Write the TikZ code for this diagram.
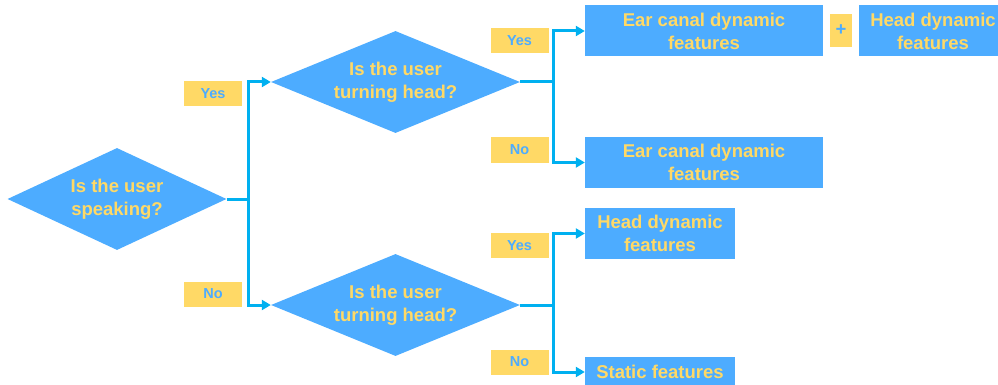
\documentclass[tikz,border=0pt]{standalone}
\usepackage{fontspec}
\setmainfont{Liberation Sans}
\usetikzlibrary{shapes.geometric, arrows.meta}

\definecolor{boxblue}{HTML}{4DACFF}
\definecolor{linkblue}{HTML}{00B0F0}
\definecolor{tagyellow}{HTML}{FFD966}

\begin{document}
\begin{tikzpicture}[x=1pt, y=-1pt,
	ask/.style={diamond, aspect=2.15, fill=boxblue, text=tagyellow, align=center, inner sep=0pt,
		minimum width=219pt, minimum height=102pt,
		font=\bfseries\fontsize{18.5}{23}\selectfont},
	feat/.style={rectangle, fill=boxblue, text=tagyellow, align=center, inner sep=0pt,
		minimum height=51pt, font=\bfseries\fontsize{18.5}{23}\selectfont},
	tag/.style={rectangle, fill=tagyellow, text=boxblue, inner sep=0pt,
		minimum width=58pt, minimum height=25pt, font=\bfseries\fontsize{14.5}{17}\selectfont},
	link/.style={line width=3pt, linkblue},
	go/.style={link, -{Triangle[length=9pt, width=10pt]}}]

\useasboundingbox (0, 0) rectangle (998, 385);
\clip (0, 0) rectangle (998, 385);

\node[ask] (speak) at (117, 199) {Is the user\\speaking?};
\node[ask, aspect=2.42, minimum width=249pt] (turnA) at (395.5, 82) {Is the user\\turning head?};
\node[ask, aspect=2.42, minimum width=249pt] (turnB) at (395.5, 305) {Is the user\\turning head?};

\node[feat, minimum width=238pt] (earA) at (704, 31) {Ear canal dynamic\\features};
\node[tag, minimum width=22pt, minimum height=33pt, font=\bfseries\fontsize{18.5}{20}\selectfont] (plus) at (841, 30.5) {+};
\node[feat, minimum width=148pt] (headA) at (933, 31) {Head dynamic\\features};
\node[feat, minimum width=238pt] (earB) at (704, 162.5) {Ear canal dynamic\\features};
\node[feat, minimum width=150pt] (headB) at (660, 233.5) {Head dynamic\\features};
\node[feat, minimum width=150pt, minimum height=30pt] (static) at (660, 372) {Static features};

\foreach \name/\x/\y/\text in {
	yesA/213/94/Yes,
	noA/213/294/No,
	yesB/519.5/41/Yes,
	noB/519.5/150/No,
	yesC/519.5/245.5/Yes,
	noC/519.5/362/No}
	\node[tag] (\name) at (\x, \y) {\text};

\coordinate (forkA) at (248, 199);
\coordinate (forkB) at (553, 82);
\coordinate (forkC) at (553, 305);

\draw[link] (speak.east) -- (forkA);
\draw[go] (forkA) |- (turnA.west);
\draw[go] (forkA) |- (turnB.west);

\draw[link] (turnA.east) -- (forkB);
\draw[go] (forkB) |- (earA.west);
\draw[go] (forkB) |- (earB.west);

\draw[link] (turnB.east) -- (forkC);
\draw[go] (forkC) |- (headB.west);
\draw[go] (forkC) |- (static.west);

\end{tikzpicture}
\end{document}
